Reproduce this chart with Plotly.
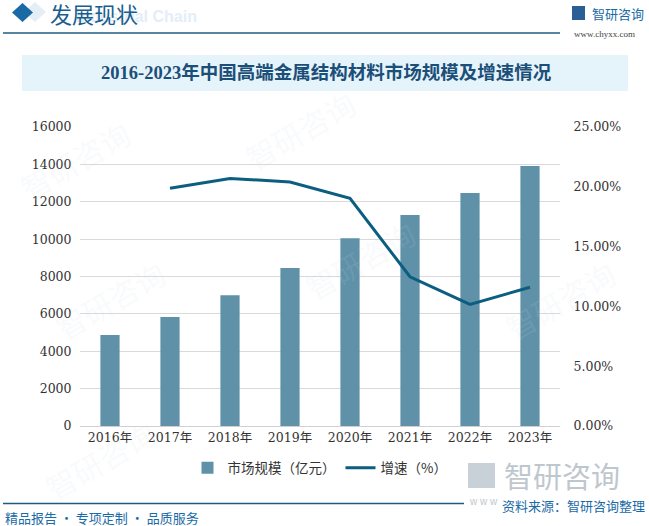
import plotly.graph_objects as go

years = ["2016年", "2017年", "2018年", "2019年", "2020年", "2021年", "2022年", "2023年"]
market_size = [4870, 5830, 7000, 8450, 10050, 11290, 12470, 13910]
growth_years = ["2017年", "2018年", "2019年", "2020年", "2021年", "2022年", "2023年"]
growth_rate = [0.1987, 0.2070, 0.2040, 0.1904, 0.1248, 0.1017, 0.1160]

W, H = 649, 526
L, R, T, B = 80, 560, 127, 426

def px(x):
    return (x - L) / (R - L)

def py(y):
    return (B - y) / (B - T)

CJK = "Noto Sans CJK SC"
SERIF = "Liberation Serif, Noto Sans CJK SC"
NUM = "DejaVu Serif, Noto Sans CJK SC"

fig = go.Figure()
fig.add_trace(go.Bar(
    x=years, y=market_size, name="市场规模（亿元）",
    marker=dict(color="#5F91A8"), yaxis="y",
))
fig.add_trace(go.Scatter(
    x=growth_years, y=growth_rate, name="增速（%）", mode="lines",
    line=dict(color="#0B5E80", width=3), yaxis="y2",
))

shapes = []
annotations = []

def ann(x, y, text, font, xanchor="center", angle=0):
    annotations.append(dict(xref="paper", yref="paper", x=px(x), y=py(y), text=text,
                            showarrow=False, xanchor=xanchor, yanchor="middle",
                            textangle=angle, font=font))

# title banner
shapes.append(dict(type="rect", xref="paper", yref="paper",
                   x0=px(22), x1=px(628), y0=py(91), y1=py(55),
                   fillcolor="#E5F3FB", line=dict(width=0), layer="below"))
ann(326, 73, "<b>2016-2023年中国高端金属结构材料市场规模及增速情况</b>",
    dict(family=SERIF, size=18.5, color="#1B4F78"))

# header
shapes.append(dict(type="path", xref="paper", yref="paper",
                   path=f"M {px(24)},{py(12)} L {px(35)},{py(2)} L {px(46)},{py(12)} L {px(35)},{py(22)} Z",
                   fillcolor="#E3EEF6", line=dict(width=0)))
shapes.append(dict(type="path", xref="paper", yref="paper",
                   path=f"M {px(12)},{py(12.5)} L {px(22.5)},{py(3)} L {px(33)},{py(12.5)} L {px(22.5)},{py(22)} Z",
                   fillcolor="#1A6AA6", line=dict(width=0)))
ann(199, 16, "<b>Industrial Chain</b>",
    dict(family="Liberation Sans", size=16, color="#E3EEF8"), xanchor="right")
ann(48, 13, "发展现状", dict(family=CJK, size=22, color="#1A5E8E"), xanchor="left")
shapes.append(dict(type="line", xref="paper", yref="paper",
                   x0=px(3), x1=px(560), y0=py(33), y1=py(33),
                   line=dict(color="#1E5C80", width=1.5)))
# top right logo
shapes.append(dict(type="rect", xref="paper", yref="paper",
                   x0=px(572), x1=px(585), y0=py(20), y1=py(6),
                   fillcolor="#2A5F95", line=dict(width=0)))
ann(590, 13, "智研咨询", dict(family=CJK, size=13, color="#1A6AA6"), xanchor="left")
ann(572, 34, "www.chyxx.com", dict(family="Liberation Serif", size=9, color="#444444"),
    xanchor="left")

# watermarks
for (wx, wy) in [(75, 160), (300, 130), (110, 300), (360, 260), (100, 460), (560, 300)]:
    ann(wx, wy, "智研咨询", dict(family=CJK, size=30, color="rgba(200,215,225,0.12)"), angle=-30)

# bottom
shapes.append(dict(type="line", xref="paper", yref="paper",
                   x0=px(3), x1=px(464), y0=py(503.5), y1=py(503.5),
                   line=dict(color="#1E5C80", width=1.5)))
shapes.append(dict(type="rect", xref="paper", yref="paper",
                   x0=px(468), x1=px(495), y0=py(488), y1=py(463),
                   fillcolor="#C8D0D8", line=dict(width=0)))
ann(502, 475, "智研咨询", dict(family=CJK, size=29, color="#BFC7CE"), xanchor="left")
ann(467, 501, "w w w", dict(family="Liberation Sans", size=10, color="#BFC7CE"), xanchor="left")
ann(647, 505, "资料来源：智研咨询整理", dict(family=CJK, size=13, color="#1A6AA6"), xanchor="right")
ann(3, 517, "精品报告 · 专项定制 · 品质服务", dict(family=CJK, size=13, color="#1A6AA6"),
    xanchor="left")

fig.update_layout(
    template="none",
    width=W, height=H,
    margin=dict(l=L, r=W - R, t=T, b=H - B, pad=0, autoexpand=False),
    paper_bgcolor="white", plot_bgcolor="white",
    bargap=0.68,
    showlegend=True,
    legend=dict(orientation="h", x=0.5, xanchor="center", yref="container",
                y=1 - 468 / H, yanchor="middle",
                font=dict(family=CJK, size=13.5, color="#333333"),
                bgcolor="rgba(0,0,0,0)"),
    xaxis=dict(tickfont=dict(family=NUM, size=12.5, color="#333333"), automargin=False,
               showline=True, linecolor="#D0D0D0", linewidth=1, ticks="", showgrid=False,
               zeroline=False),
    yaxis=dict(range=[0, 16000], dtick=2000, tickformat="d", showgrid=True,
               gridcolor="#D9D9D9", gridwidth=1, automargin=False, showline=False,
               tickfont=dict(family=NUM, size=12.5, color="#333333"),
               zeroline=False, ticks="outside", ticklen=5, tickcolor="rgba(0,0,0,0)"),
    yaxis2=dict(range=[0, 0.25], dtick=0.05, tickformat=".2%", overlaying="y", side="right",
                showgrid=False, zeroline=False, automargin=False, showline=False,
                tickfont=dict(family=NUM, size=12.5, color="#333333"),
                ticks="outside", ticklen=10, tickcolor="rgba(0,0,0,0)"),
    shapes=shapes, annotations=annotations,
)

fig.write_html("out.html", config={"displayModeBar": False},
               post_script="document.body.style.margin='0';")
